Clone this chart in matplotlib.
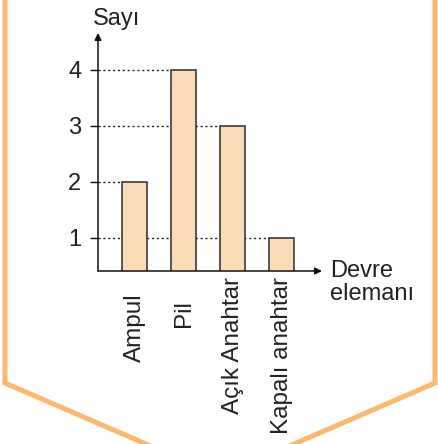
import matplotlib
matplotlib.use("Agg")
import matplotlib.pyplot as plt
from matplotlib.lines import Line2D

plt.rcParams['font.family'] = ['Liberation Sans', 'DejaVu Sans']

# data
categories = ["Ampul", "Pil", "Açık Anahtar", "Kapalı anahtar"]
counts = [2, 4, 3, 1]
yticks = [1, 2, 3, 4]

W, H = 439, 444
fig = plt.figure(figsize=(W / 100, H / 100), dpi=100)

# orange pentagon frame (pixel coords -> figure fraction)
frame_x = [5, 5, 220, 435, 435]
frame_y = [0, 383, 476, 383, 0]
fig.add_artist(Line2D([x / W for x in frame_x], [1 - y / H for y in frame_y],
                      transform=fig.transFigure, color="#FDB870", lw=3.6,
                      solid_joinstyle="miter"))

# axes box: y-axis at x=98, x-axis at y=271, arrow tips at y=33 / x=322
ax = fig.add_axes([98 / W, 1 - 271 / H, (322 - 98) / W, (271 - 33) / H])
ax.set_xlim(-0.755, 3.82)
ax.set_ylim(0.41, 4.66)
for s in ax.spines.values():
    s.set_visible(False)
ax.patch.set_alpha(0)

xs = list(range(len(categories)))
bw = 0.51
ax.bar(xs, counts, width=bw, color="#FDDBB8", edgecolor="#2b2b2b",
       linewidth=1.1, zorder=3)

# dotted guide lines from the axis to each bar
xmin = ax.get_xlim()[0]
for x, v in zip(xs, counts):
    ax.plot([xmin, x - bw / 2], [v, v], color="#222222", lw=1.0,
            ls=(0, (1.5, 2)), zorder=1)

# axes with arrows
arrow = dict(arrowstyle="-|>", color="#111111", lw=1.1,
             mutation_scale=10, shrinkA=0, shrinkB=0)
ax.annotate("", xy=(0, 1), xytext=(0, 0), xycoords="axes fraction",
            arrowprops=arrow, zorder=5)
ax.annotate("", xy=(1, 0), xytext=(0, 0), xycoords="axes fraction",
            arrowprops=arrow, zorder=5)

ax.set_yticks(yticks)
ax.set_yticklabels([str(t) for t in yticks], fontsize=17, color="#222222")
ax.tick_params(axis="y", length=6, width=1, color="#111111", pad=6)

ax.set_xticks(xs)
ax.set_xticklabels(categories, rotation=90, fontsize=17.5, color="#222222",
                   va="top", ha="center")
ax.tick_params(axis="x", length=0)
for tick, pad in zip(ax.xaxis.get_major_ticks(), [16, 21, 4.5, 4.5]):
    tick.set_pad(pad)

ax.text(-0.025, 1.012, "Sayı", transform=ax.transAxes, fontsize=17,
        color="#222222", ha="left", va="bottom")
ax.text(1.035, 0.0, "Devre", transform=ax.transAxes, fontsize=17,
        color="#222222", ha="left", va="center")
ax.text(1.035, -0.098, "elemanı", transform=ax.transAxes, fontsize=17,
        color="#222222", ha="left", va="center")
fig.savefig("out.png", dpi=100)
